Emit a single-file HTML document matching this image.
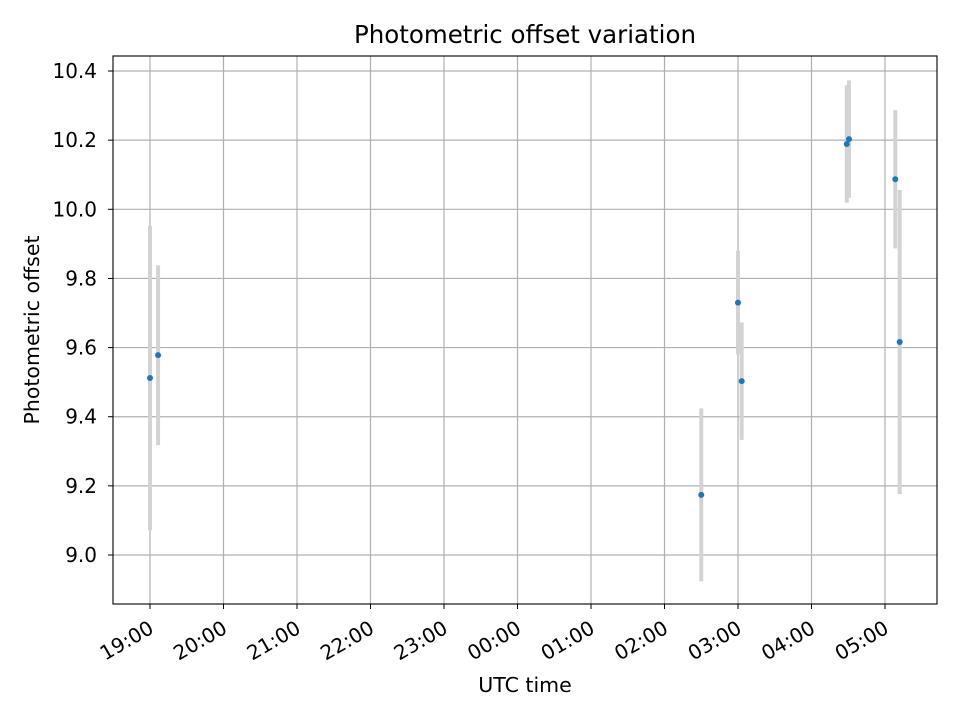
<!DOCTYPE html>
<html><head><meta charset="utf-8"><style>
body{margin:0;background:#fff;font-family:"DejaVu Sans","Liberation Sans",sans-serif;}
svg text{font-family:"DejaVu Sans","Liberation Sans",sans-serif;}
</style></head><body>
<svg id="chart" width="960" height="720">
<rect width="960" height="720" fill="#fff"/>
<g id="grid"></g><g id="errs"></g><g id="pts"></g><g id="axes"></g>
<text x="525" y="43" text-anchor="middle" style="font-size:24.5px">Photometric offset variation</text>
<text x="525" y="692" text-anchor="middle" style="font-size:20.5px">UTC time</text>
<text transform="translate(39,330) rotate(-90)" text-anchor="middle" style="font-size:20.5px">Photometric offset</text>
</svg>
<script>
// hours since 19:00
const times=[0.0,0.11,7.5,8.0,8.05,9.48,9.51,10.14,10.2];
const values=[9.512,9.578,9.174,9.73,9.503,10.189,10.203,10.087,9.616];
const errors=[0.44,0.26,0.25,0.15,0.17,0.17,0.17,0.2,0.44];
const xTickLabels=["19:00","20:00","21:00","22:00","23:00","00:00","01:00","02:00","03:00","04:00","05:00"];
const yTicks=[9.0,9.2,9.4,9.6,9.8,10.0,10.2,10.4];
const L=113,R=937,T=56,B=604;
const xs=h=>150+h*73.5;
const ys=v=>555-(v-9)*345.7;
const NS="http://www.w3.org/2000/svg";
function mk(p,tag,a){const e=document.createElementNS(NS,tag);for(const k in a)e.setAttribute(k,a[k]);document.getElementById(p).appendChild(e);return e;}
xTickLabels.forEach((t,i)=>{
  const x=xs(i);
  const g=mk('grid','line',{x1:x,x2:x,y1:T,y2:B,stroke:'#b0b0b0','stroke-width':1.2});
  
  
  const tk=mk('axes','line',{x1:x,x2:x,y1:B,y2:B+5,stroke:'#000','stroke-width':1});
  
  
  const tx=mk('axes','text',{x:x+5,y:B+28,style:'font-size:20px','text-anchor':'end',transform:`rotate(-30 ${x+5} ${B+28})`});
  tx.textContent=t;
  
  
});
yTicks.forEach(v=>{
  const y=ys(v);
  const g=mk('grid','line',{x1:L,x2:R,y1:y,y2:y,stroke:'#b0b0b0','stroke-width':1.2});
  
  
  const tk=mk('axes','line',{x1:L-5,x2:L,y1:y,y2:y,stroke:'#000','stroke-width':1});
  
  
  const tx=mk('axes','text',{x:L-16,y:y+7,style:'font-size:20px','text-anchor':'end'});
  tx.textContent=v.toFixed(1);
  
  
});
const fr=mk('axes','rect',{x:L,y:T,width:R-L,height:B-T,fill:'none',stroke:'#000','stroke-width':1.1});


times.forEach((h,i)=>{
  const x=xs(h);
  const e=mk('errs','line',{x1:x,x2:x,y1:ys(values[i]+errors[i]),y2:ys(values[i]-errors[i]),stroke:'#d3d3d3','stroke-width':4});
  
  
  const c=mk('pts','circle',{cx:x,cy:ys(values[i]),r:3,fill:'#1f77b4'});
  
  
});
</script>
</body></html>
